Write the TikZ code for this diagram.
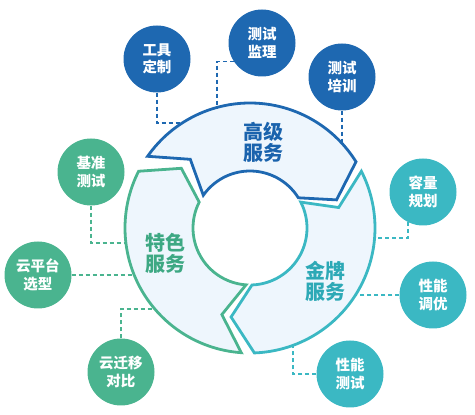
\documentclass[tikz,border=0pt]{standalone}
\usepackage{fontspec}
\newfontfamily\cjk{Noto Sans CJK SC}
\usetikzlibrary{calc}
\definecolor{cblue}{HTML}{1E68B1}
\definecolor{cgreen}{HTML}{4AB48F}
\definecolor{cteal}{HTML}{3BB8C3}
\definecolor{cfill}{HTML}{EEF6FD}
\definecolor{tblue}{HTML}{1A63AD}
\definecolor{tgreen}{HTML}{3DA883}
\definecolor{tteal}{HTML}{2DA9B6}
\tikzset{
  bubble/.style={circle, minimum size=67pt, inner sep=0pt, text=white,
    font=\cjk\bfseries\fontsize{14.5}{17.5}\selectfont, align=center},
  seg/.style={line width=2.8pt, fill=cfill, line join=miter},
  link/.style={dash pattern=on 4pt off 3pt, line width=1.6pt},
  lab/.style={font=\cjk\bfseries\fontsize{20}{21}\selectfont, align=center}
}
\begin{document}
\begin{tikzpicture}[x=1pt,y=1pt]
\useasboundingbox (0,0) rectangle (475,415);
\coordinate (C) at (250,187);
% ring segments
\begin{scope}[shift={(250,187)}]
\draw[seg, draw=cblue] (145:125pt) arc[start angle=145, end angle=32, radius=125pt]
  -- (18:91pt) -- (32:57pt) arc[start angle=32, end angle=145, radius=57pt]
  -- (131:91pt) -- cycle;
\draw[seg, draw=cteal] (27:125pt) arc[start angle=27, end angle=-88, radius=125pt]
  -- (-102:91pt) -- (-88:57pt) arc[start angle=-88, end angle=27, radius=57pt]
  -- (13:91pt) -- cycle;
\draw[seg, draw=cgreen] (266:125pt) arc[start angle=266, end angle=153, radius=125pt]
  -- (139:91pt) -- (153:57pt) arc[start angle=153, end angle=266, radius=57pt]
  -- (252:91pt) -- cycle;
\end{scope}
\node[lab, text=tblue] (lblue) at (263,273) {高级\\服务};
\node[lab, text=tgreen] (lgreen) at (165,162) {特色\\服务};
\node[lab, text=tteal] (lteal) at (325,134) {金牌\\服务};
% bubbles
\node[bubble, fill=cblue] (c1) at (157,356) {工具\\定制};
\node[bubble, fill=cblue] (c2) at (262,372) {测试\\监理};
\node[bubble, fill=cblue] (c3) at (342,338) {测试\\培训};
\node[bubble, fill=cgreen] (c4) at (91,243) {基准\\测试};
\node[bubble, fill=cgreen] (c5) at (38,140) {云平台\\选型};
\node[bubble, fill=cgreen] (c6) at (121,43) {云迁移\\对比};
\node[bubble, fill=cteal] (c7) at (423,223) {容量\\规划};
\node[bubble, fill=cteal] (c8) at (433,120) {性能\\调优};
\node[bubble, fill=cteal] (c9) at (350,41) {性能\\测试};
% ring end points
\coordinate (r1) at (180,292);
\coordinate (r2) at (217,307);
\coordinate (r3) at (342,273);
\coordinate (r4) at (125,172);
\coordinate (r5) at (133,140);
\coordinate (r6) at (154,106);
\coordinate (r7) at (375,177);
\coordinate (r8) at (355,120);
\coordinate (r9) at (293,71);
% connectors
\draw[link, cblue] (c1.south) |- (r1);
\draw[link, cblue] (c2.213) -| (r2);
\draw[link, cblue] (c3.south) -- (r3);
\draw[link, cgreen] (c4.south) |- (r4);
\draw[link, cgreen] (c5.east) -- (r5);
\draw[link, cgreen] (c6.north) |- (r6);
\draw[link, cteal] (c7.243) |- (r7);
\draw[link, cteal] (c8.west) -- (r8);
\draw[link, cteal] (c9.west) -| (r9);
\end{tikzpicture}
\end{document}
